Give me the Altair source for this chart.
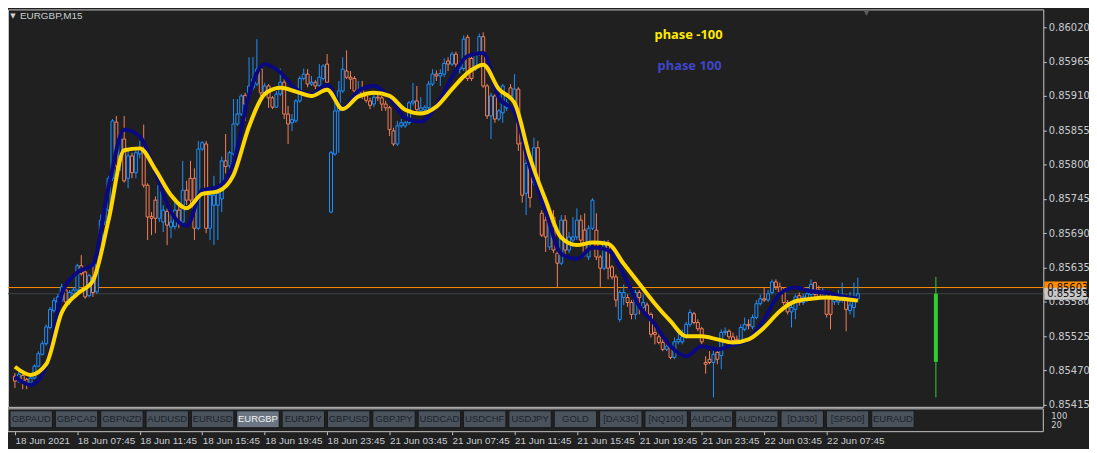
import altair as alt
import pandas as pd

# ---------------- data (prices in points, 1 point = 0.00001) ----------------
opens = [85461,85453,85462,85456,85450,85458,85477,85496,85513,85539,85566,85580,85583,85599,85579,85593,85599,85638,85628,85590,
         85620,85596,85663,85708,85727,85778,85868,85806,85841,85778,85814,85787,85817,85825,85767,85717,85743,85714,85708,85725,
         85700,85701,85727,85708,85759,85778,85778,85698,85825,85833,85698,85735,85735,85745,85806,85798,85817,85865,85881,85911,
         85910,85923,85929,85953,85915,85926,85907,85892,85913,85932,85881,85867,85870,85902,85938,85945,85929,85932,85927,85938,
         85961,85724,85817,85886,85918,85950,85940,85938,85915,85919,85910,85902,85897,85908,85907,85897,85891,85854,85833,85862,
         85862,85867,85899,85902,85886,85888,85891,85929,85945,85942,85945,85966,85961,85977,85953,85954,86004,85970,85953,85977,
         86005,85926,85878,85910,85873,85883,85891,85923,85902,85921,85835,85754,85802,85771,85827,85722,85711,85668,85716,85658,
         85642,85711,85663,85679,85684,85711,85695,85652,85698,85695,85652,85634,85674,85636,85620,85552,85587,85587,85579,85560,
         85595,85571,85575,85560,85531,85524,85515,85504,85509,85491,85516,85516,85524,85544,85561,85547,85537,85483,85488,85483,
         85499,85494,85531,85533,85524,85520,85516,85536,85544,85540,85555,85577,85585,85583,85595,85612,85604,85596,85579,85564,
         85568,85590,85579,85583,85592,85611,85599,85595,85587,85588,85580,85580,85583,85583,85566,85571,85585]
highs = [85466,85469,85466,85458,85462,85480,85501,85518,85544,85572,85587,85593,85609,85603,85599,85604,85641,85655,85631,85625,
         85642,85658,85720,85738,85782,85873,85878,85846,85878,85822,85819,85825,85838,85864,85770,85724,85749,85774,85735,85730,
         85724,85743,85735,85806,85774,85806,85794,85838,85838,85838,85759,85782,85767,85813,85849,85822,85905,85905,85913,85915,
         85972,85972,86001,85956,85931,85929,85910,85918,85954,85937,85894,85881,85905,85942,85954,85953,85942,85935,85961,85961,
         85977,85822,85902,85934,85972,85983,85950,85942,85934,85934,85913,85907,85913,85915,85910,85902,85894,85859,85870,85873,
         85870,85902,85931,85926,85908,85895,85934,85953,85951,85953,85970,85972,85981,85981,85966,86007,86008,85978,85981,86010,
         86012,85929,85915,85913,85889,85929,85905,85929,85945,85924,85838,85810,85807,85843,85838,85727,85719,85711,85727,85663,
         85719,85719,85692,85716,85730,85719,85722,85703,85746,85722,85655,85679,85679,85639,85624,85599,85608,85592,85583,85599,
         85599,85592,85579,85563,85544,85528,85520,85512,85512,85523,85528,85536,85548,85568,85564,85552,85540,85493,85501,85504,
         85504,85536,85539,85536,85531,85526,85544,85555,85552,85560,85583,85592,85603,85599,85616,85616,85611,85603,85583,85580,
         85592,85595,85593,85603,85616,85612,85606,85603,85590,85593,85592,85599,85611,85592,85596,85611,85619]
lows = [85442,85450,85440,85440,85446,85456,85475,85494,85510,85536,85563,85577,85580,85575,85575,85590,85596,85622,85585,85587,
        85588,85593,85660,85703,85724,85774,85790,85790,85771,85762,85778,85778,85810,85763,85679,85687,85690,85708,85692,85671,
        85682,85696,85698,85704,85735,85735,85679,85695,85822,85690,85679,85671,85679,85724,85786,85790,85814,85862,85878,85870,
        85907,85919,85926,85910,85911,85891,85889,85891,85910,85873,85833,85854,85867,85899,85935,85924,85926,85921,85924,85935,
        85929,85722,85814,85819,85915,85937,85921,85915,85911,85905,85899,85889,85892,85902,85886,85886,85846,85830,85830,85859,
        85859,85864,85895,85886,85883,85884,85889,85926,85934,85926,85940,85950,85958,85956,85946,85950,85934,85934,85950,85974,
        85923,85873,85841,85867,85870,85867,85886,85905,85899,85822,85739,85719,85731,85767,85759,85684,85660,85663,85658,85604,
        85639,85655,85658,85674,85679,85671,85653,85647,85695,85647,85604,85631,85616,85616,85572,85548,85575,85572,85552,85552,
        85560,85564,85555,85523,85512,85512,85501,85501,85488,85488,85512,85512,85521,85540,85544,85533,85512,85465,85480,85427,
        85480,85472,85526,85520,85513,85512,85512,85533,85536,85536,85552,85574,85580,85580,85592,85599,85592,85575,85560,85539,
        85552,85574,85575,85580,85588,85587,85584,85590,85555,85536,85575,85575,85579,85533,85560,85555,85580]
closes = [85453,85464,85454,85450,85458,85477,85497,85513,85540,85568,85582,85588,85604,85580,85595,85599,85638,85625,85588,85622,
          85595,85653,85711,85730,85778,85870,85798,85841,85774,85814,85787,85819,85827,85767,85716,85714,85714,85767,85727,85703,
          85708,85727,85708,85759,85743,85743,85698,85825,85835,85698,85751,85751,85754,85806,85797,85819,85865,85881,85910,85897,
          85926,85937,85953,85915,85926,85907,85892,85913,85932,85881,85865,85872,85902,85938,85945,85929,85932,85926,85940,85958,
          85932,85819,85886,85918,85953,85940,85937,85918,85919,85910,85903,85895,85908,85907,85897,85891,85856,85833,85862,85867,
          85867,85899,85902,85888,85891,85892,85929,85945,85942,85946,85962,85961,85977,85961,85956,86001,85938,85938,85977,86005,
          85926,85878,85910,85873,85886,85926,85899,85910,85921,85833,85751,85802,85747,85827,85763,85687,85684,85703,85663,85642,
          85711,85663,85684,85684,85711,85679,85658,85698,85743,85652,85634,85674,85634,85620,85583,85595,85595,85579,85560,85595,
          85587,85579,85560,85528,85528,85515,85504,85509,85491,85516,85520,85524,85544,85563,85547,85537,85516,85480,85483,85496,
          85488,85531,85533,85524,85518,85518,85539,85544,85542,85555,85577,85585,85583,85593,85612,85604,85596,85579,85564,85571,
          85588,85579,85588,85593,85608,85592,85588,85598,85560,85560,85587,85588,85592,85568,85575,85588,85593]
bars = list(range(len(closes)))

# indicator lines, one value every 4 bars
line_bars = list(range(0, 217, 4))
phase_minus_100 = [85476,85463,85480,85563,85593,85614,85711,85823,85826,85792,85751,85730,85753,85757,85783,85861,85913,85923,
                   85917,85910,85920,85889,85909,85915,85910,85888,85882,85893,85921,85947,85960,85921,85899,85811,85743,85683,
                   85671,85675,85673,85641,85609,85577,85549,85525,85525,85520,85515,85520,85539,85565,85581,85585,85587,85585,85582]
phase_plus_100 = [85460,85447,85477,85593,85627,85640,85764,85856,85845,85788,85724,85702,85759,85764,85802,85912,85961,85948,
                  85921,85913,85928,85891,85918,85926,85907,85875,85869,85894,85940,85974,85979,85907,85885,85796,85726,85657,
                  85649,85667,85663,85624,85573,85544,85509,85493,85509,85504,85511,85520,85552,85593,85603,85597,85595,85589,85585]

# higher-timeframe candle shown to the right
htf_bar = [236]
htf_open = [85593]
htf_close = [85484]
htf_high = [85620]
htf_low = [85427]

time_label_bars = list(range(0, 209, 16))
time_labels = ["18 Jun 2021", "18 Jun 07:45", "18 Jun 11:45", "18 Jun 15:45", "18 Jun 19:45", "18 Jun 23:45",
               "21 Jun 03:45", "21 Jun 07:45", "21 Jun 11:45", "21 Jun 15:45", "21 Jun 19:45", "21 Jun 23:45",
               "22 Jun 03:45", "22 Jun 07:45"]
price_ticks = [0.85415, 0.85470, 0.85525, 0.85580, 0.85635, 0.85690, 0.85745, 0.85800, 0.85855, 0.85910, 0.85965, 0.86020]
level_prices = [0.85603, 0.85593]
level_labels = ["0.85603", "0.85593"]
symbols = ["GBPAUD", "GBPCAD", "GBPNZD", "AUDUSD", "EURUSD", "EURGBP", "EURJPY", "GBPUSD", "GBPJPY", "USDCAD",
           "USDCHF", "USDJPY", "GOLD", "[DAX30]", "[NQ100]", "AUDCAD", "AUDNZD", "[DJI30]", "[SP500]", "EURAUD"]
active_symbol = "EURGBP"

# ---------------- styling ----------------
BG = "#202020"
BULL = "#1e90ff"
BEAR = "#f4805a"
FRAME = "#c8c8c8"
TXT = "#c8ccd0"
FONT = "DejaVu Sans"
TFONT = "Liberation Sans"
W, H = 1042, 400

df = pd.DataFrame({
    "bar": bars,
    "open": [v / 1e5 for v in opens],
    "high": [v / 1e5 for v in highs],
    "low": [v / 1e5 for v in lows],
    "close": [v / 1e5 for v in closes],
})
df["col"] = [BULL if c >= o else BEAR for o, c in zip(opens, closes)]

ldf = pd.DataFrame({
    "bar": line_bars,
    "yellow": [v / 1e5 for v in phase_minus_100],
    "navy": [v / 1e5 for v in phase_plus_100],
})
hdf = pd.DataFrame({
    "bar": htf_bar,
    "open": [v / 1e5 for v in htf_open],
    "close": [v / 1e5 for v in htf_close],
    "high": [v / 1e5 for v in htf_high],
    "low": [v / 1e5 for v in htf_low],
})
lvl = pd.DataFrame({"price": level_prices, "label": level_labels,
                    "col": ["#ff8c00", "#3c4444"], "tag": ["#ff8c00", "#c8c8c8"]})

xscale = alt.Scale(domain=[-0.5, 262.25], nice=False, zero=False)
yscale = alt.Scale(domain=[0.8541182, 0.8604866], nice=False, zero=False)
label_expr = "[" + ",".join("'" + t + "'" for t in time_labels) + "][round(datum.value/16)]"
xaxis = alt.Axis(values=time_label_bars, labelExpr=label_expr, offset=25, tickSize=3, tickColor=FRAME,
                 domain=False, grid=False, labelAlign="left", labelBaseline="top", labelPadding=1,
                 labelColor=TXT, labelFont=TFONT, labelFontSize=10, title=None, labelFlush=False,
                 labelOverlap=False)
yaxis = alt.Axis(orient="right", values=price_ticks, format=".5f", tickSize=3, tickColor=FRAME,
                 domain=False, grid=False, labelPadding=2, labelColor=TXT, labelFont=FONT,
                 labelFontSize=10, title=None, labelFlush=False, labelOverlap=False)


def X(f="bar"):
    return alt.X(f + ":Q", scale=xscale, axis=xaxis)


def Y(f):
    return alt.Y(f + ":Q", scale=yscale, axis=yaxis)


wicks = alt.Chart(df).mark_rule(strokeWidth=1).encode(
    x=X(), y=Y("low"), y2="high:Q", color=alt.Color("col:N", scale=None))
bodies = alt.Chart(df).mark_bar(width=3, fill=BG, strokeWidth=1).encode(
    x=X(), y=Y("open"), y2="close:Q", stroke=alt.Color("col:N", scale=None))

navy_line = alt.Chart(ldf).mark_line(color="#0a0a7e", strokeWidth=4, interpolate="monotone").encode(
    x=X(), y=Y("navy"))
yellow_line = alt.Chart(ldf).mark_line(color="#ffd700", strokeWidth=4, interpolate="monotone").encode(
    x=X(), y=Y("yellow"))

htf_wick = alt.Chart(hdf).mark_rule(color="#32cd32", strokeWidth=1).encode(x=X(), y=Y("low"), y2="high:Q")
htf_body = alt.Chart(hdf).mark_bar(width=4, color="#32cd32").encode(x=X(), y=Y("close"), y2="open:Q")

levels = alt.Chart(lvl).mark_rule(strokeWidth=1).encode(y=Y("price"), color=alt.Color("col:N", scale=None))
tags = alt.Chart(lvl).mark_tick(orient="horizontal", size=43, thickness=12, opacity=1).encode(
    y=Y("price"), x=alt.value(W + 22.5), color=alt.Color("tag:N", scale=None))
tag_text = alt.Chart(lvl).mark_text(align="left", baseline="middle", font=FONT, fontSize=10, color="#101010").encode(
    y=Y("price"), x=alt.value(W + 4), text="label:N")

one = pd.DataFrame({"k": [0]})
title_txt = alt.Chart(one).mark_text(align="left", baseline="middle", font=TFONT, fontSize=10, color=TXT,
                                      text="EURGBP,M15").encode(x=alt.value(12), y=alt.value(7))
tri = alt.Chart(one).mark_text(align="center", baseline="middle", font=FONT, fontSize=7, color="#d0d0d0",
                                text="▼").encode(x=alt.value(5), y=alt.value(7))
shift_mark = alt.Chart(one).mark_text(align="center", baseline="top", font=FONT, fontSize=7, color="#606060",
                                       text="▼").encode(x=alt.value(864), y=alt.value(0))
lbl1 = alt.Chart(one).mark_text(font="Noto Sans", fontSize=13, fontWeight="bold", color="#ffea00",
                                 text="phase -100").encode(x=alt.value(685), y=alt.value(26))
lbl2 = alt.Chart(one).mark_text(font="Noto Sans", fontSize=13, fontWeight="bold", color="#3e46c8",
                                 text="phase 100").encode(x=alt.value(686), y=alt.value(57))

sub_frame = alt.Chart(one).mark_rect(fill=BG, stroke=FRAME, strokeWidth=1).encode(
    x=alt.value(0), x2=alt.value(W), y=alt.value(402), y2=alt.value(425))
sub_100 = alt.Chart(one).mark_text(align="left", baseline="middle", font=FONT, fontSize=8.5, color=TXT,
                                    text="100").encode(x=alt.value(W + 8), y=alt.value(409))
sub_20 = alt.Chart(one).mark_text(align="left", baseline="middle", font=FONT, fontSize=8.5, color=TXT,
                                   text="20").encode(x=alt.value(W + 8), y=alt.value(418.5))

main = alt.layer(sub_frame, levels, wicks, bodies, htf_wick, htf_body, navy_line, yellow_line,
                 tags, tag_text, title_txt, tri, shift_mark, lbl1, lbl2, sub_100, sub_20)

bdf = pd.DataFrame({"name": symbols})
bdf["fill"] = ["#6c7682" if s == active_symbol else "#4a525c" for s in symbols]
bdf["tc"] = ["#f0f0f0" if s == active_symbol else "#1c232b" for s in symbols]
bx = alt.X("name:N", sort=symbols,
           scale=alt.Scale(domain=symbols, range=[2, 912], paddingInner=0.065, paddingOuter=0), axis=None)
btn = alt.Chart(bdf).mark_rect(stroke="#15181c", strokeWidth=1).encode(
    x=bx, y=alt.value(404), y2=alt.value(421), fill=alt.Color("fill:N", scale=None))
btn_txt = alt.Chart(bdf).mark_text(font=TFONT, fontSize=9.5, baseline="middle").encode(
    x=bx, y=alt.value(412.5), text="name:N", color=alt.Color("tc:N", scale=None))
buttons = alt.layer(btn, btn_txt)

chart = alt.layer(main, buttons).resolve_scale(x="independent").properties(
    width=W, height=H,
    autosize=alt.AutoSizeParams(type="none"),
    padding={"left": 0, "top": 0, "right": 46, "bottom": 41},
).configure(background=BG).configure_view(stroke=FRAME, strokeWidth=1)

chart.save("out.html", embed_options={"renderer": "svg", "actions": False})
